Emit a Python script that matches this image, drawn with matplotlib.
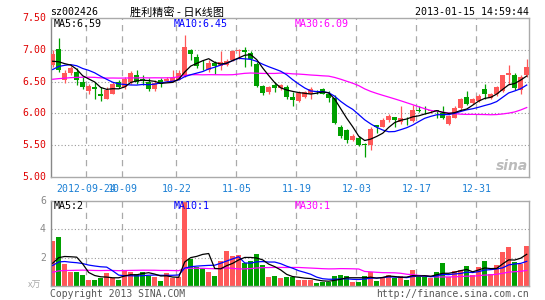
import matplotlib.pyplot as plt
import numpy as np

# daily candles 2012-09-14 .. 2013-01-15 (80 trading days)
opens = [6.76, 7.02, 6.53, 6.64, 6.65, 6.50, 6.35, 6.42, 6.31, 6.23,
         6.31, 6.50, 6.42, 6.50, 6.60, 6.54, 6.50, 6.38, 6.52, 6.51,
         6.51, 6.53, 6.60, 7.00, 6.89, 6.78, 6.69, 6.79, 6.75, 6.76,
         6.84, 6.98, 7.00, 6.95, 6.78, 6.43, 6.33, 6.45, 6.40, 6.41,
         6.26, 6.19, 6.26, 6.31, 6.35, 6.39, 6.31, 6.24, 5.78, 5.74,
         5.58, 5.62, 5.52, 5.50, 5.81, 5.79, 5.89, 5.94, 5.87, 5.90,
         5.88, 6.05, 6.04, 6.03, 6.05, 6.01, 5.83, 5.93, 6.08, 6.25,
         6.16, 6.19, 6.39, 6.25, 6.30, 6.36, 6.60, 6.60, 6.37, 6.60]
highs = [7.00, 7.18, 6.69, 6.74, 6.72, 6.57, 6.47, 6.49, 6.42, 6.42,
         6.50, 6.53, 6.57, 6.66, 6.68, 6.60, 6.55, 6.52, 6.55, 6.57,
         6.69, 6.68, 7.24, 7.02, 6.94, 6.84, 6.84, 6.83, 6.98, 6.86,
         7.00, 7.01, 7.04, 6.98, 6.81, 6.44, 6.43, 6.49, 6.47, 6.44,
         6.34, 6.35, 6.36, 6.41, 6.37, 6.40, 6.36, 6.29, 5.82, 5.76,
         5.67, 5.64, 5.54, 5.79, 5.82, 5.92, 5.99, 5.95, 6.11, 5.94,
         6.13, 6.11, 6.11, 6.06, 6.06, 6.11, 5.97, 6.11, 6.24, 6.36,
         6.24, 6.31, 6.46, 6.32, 6.43, 6.61, 6.76, 6.63, 6.60, 6.86]
lows = [6.73, 6.65, 6.48, 6.60, 6.44, 6.39, 6.31, 6.23, 6.19, 6.22,
        6.30, 6.40, 6.39, 6.47, 6.47, 6.44, 6.36, 6.36, 6.42, 6.50,
        6.50, 6.52, 6.57, 6.84, 6.72, 6.68, 6.65, 6.62, 6.68, 6.74,
        6.83, 6.86, 6.73, 6.75, 6.42, 6.29, 6.31, 6.34, 6.37, 6.23,
        6.12, 6.18, 6.24, 6.23, 6.31, 6.30, 6.18, 5.84, 5.62, 5.53,
        5.56, 5.48, 5.31, 5.42, 5.69, 5.78, 5.87, 5.79, 5.84, 5.82,
        5.87, 6.02, 5.99, 6.01, 5.92, 5.91, 5.82, 5.92, 6.06, 6.13,
        6.14, 6.18, 6.23, 6.23, 6.28, 6.34, 6.47, 6.37, 6.31, 6.57]
closes = [6.93, 6.68, 6.63, 6.71, 6.52, 6.42, 6.43, 6.39, 6.28, 6.37,
          6.47, 6.42, 6.54, 6.63, 6.50, 6.52, 6.39, 6.48, 6.47, 6.54,
          6.56, 6.64, 7.04, 6.94, 6.75, 6.77, 6.80, 6.75, 6.81, 6.82,
          6.98, 7.00, 6.96, 6.86, 6.43, 6.32, 6.41, 6.40, 6.45, 6.26,
          6.21, 6.32, 6.34, 6.39, 6.33, 6.31, 6.24, 5.85, 5.64, 5.58,
          5.64, 5.50, 5.51, 5.75, 5.79, 5.89, 5.96, 5.89, 5.93, 5.89,
          6.06, 6.04, 6.03, 6.05, 6.04, 5.92, 5.96, 6.09, 6.22, 6.15,
          6.23, 6.28, 6.30, 6.30, 6.41, 6.60, 6.64, 6.40, 6.57, 6.73]
# volume, 万手
volumes = [3.19, 3.47, 1.52, 1.00, 1.00, 0.80, 0.45, 0.45, 0.55, 0.90,
           0.55, 0.45, 1.10, 1.00, 0.85, 1.00, 0.74, 0.62, 0.33, 0.90,
           0.57, 0.67, 6.00, 1.88, 1.33, 1.28, 0.97, 0.74, 1.74, 2.45,
           2.10, 2.17, 1.62, 1.74, 2.24, 1.45, 0.67, 0.74, 0.57, 0.67,
           0.67, 0.43, 0.43, 0.43, 0.21, 0.31, 0.31, 0.74, 0.81, 0.74,
           0.31, 0.31, 0.74, 1.02, 0.38, 0.57, 0.81, 0.57, 0.74, 0.45,
           1.10, 0.67, 0.67, 0.55, 0.98, 1.62, 0.67, 1.05, 1.10, 1.38,
           0.81, 1.33, 1.76, 0.86, 1.45, 2.40, 2.76, 1.69, 1.52, 2.81]

# the 29 sessions before the window, only used for the moving averages
prev_closes = [6.38, 6.42, 6.45, 6.40, 6.36, 6.41, 6.47, 6.50, 6.48, 6.44,
               6.46, 6.52, 6.55, 6.50, 6.47, 6.43, 6.45, 6.49, 6.53, 6.49,
               6.20, 6.45, 6.60, 6.70, 6.85, 6.72, 6.78, 6.82, 6.85]
prev_volumes = [0.60, 0.70, 0.80, 0.65, 0.55, 0.70, 0.90, 0.75, 0.60, 0.70,
                0.80, 0.85, 0.70, 0.65, 0.75, 0.80, 0.70, 0.75, 0.85, 0.80,
                1.00, 1.20, 1.50, 1.35, 1.40, 1.52, 1.10, 1.10, 1.14]

date_idx = [6, 12, 21, 31, 41, 51, 61, 71]
date_labels = ["2012-09-24", "10-09", "10-22", "11-05", "11-19", "12-03", "12-17", "12-31"]
price_ticks = [7.50, 7.00, 6.50, 6.00, 5.50, 5.00]
vol_ticks = [6, 4, 2]

RED = "#ff5858"
GREEN = "#00a000"
MONO = "DejaVu Sans Mono"
W, H = 545, 300

o = np.array(opens); c = np.array(closes)
hi = np.array(highs); lo = np.array(lows)
v = np.array(volumes)
n = len(c)
x = np.arange(n)
up = c >= o
cols = [RED if u else GREEN for u in up]


def ma(prev, arr, k):
    full = np.concatenate([prev, arr])
    return np.convolve(full, np.ones(k) / k, "valid")[-len(arr):]


def box(x0, y0, x1, y1):
    return [x0 / W, 1 - y1 / H, (x1 - x0) / W, (y1 - y0) / H]


fig = plt.figure(figsize=(5.45, 3.0), dpi=100)
ax = fig.add_axes(box(50.7, 18, 529, 177))
axv = fig.add_axes(box(50.7, 201, 529, 286))

xlim = (-0.333, n - 1 + 0.383)
for a in (ax, axv):
    a.set_xlim(*xlim)
    a.set_xticks([]); a.set_yticks([])
    for s in a.spines.values():
        s.set_color("#aaaaaa"); s.set_linewidth(1)
    a.spines["left"].set_color("#888888")
    for d in date_idx:
        a.axvline(d - 0.4, color="#aaaaaa", lw=0.9, ls=(0, (5, 4)), zorder=0)

# price panel
ax.set_ylim(5.0, 7.5)
for p in [7.0, 6.5, 6.0, 5.5]:
    ax.axhline(p, color="#999999", lw=0.8, ls=(0, (1, 2)), zorder=0)
ax.vlines(x, lo, hi, colors=cols, lw=0.9, zorder=2)
body = np.maximum(np.abs(c - o), 0.012)
ax.bar(x, body, bottom=np.minimum(o, c), width=0.8, color=cols, lw=0, zorder=3)
m5, m10, m30 = ma(prev_closes, c, 5), ma(prev_closes, c, 10), ma(prev_closes, c, 30)
ax.plot(x, m30, color="#ff00ff", lw=0.9, zorder=4)
ax.plot(x, m10, color="#0000ff", lw=0.9, zorder=4)
ax.plot(x, m5, color="black", lw=0.9, zorder=4)

# volume panel
axv.set_ylim(0, 6)
for t in [4, 2]:
    axv.axhline(t, color="#999999", lw=0.8, ls=(0, (1, 2)), zorder=0)
axv.bar(x, v, width=0.8, color=cols, lw=0, zorder=2)
vm5, vm10, vm30 = ma(prev_volumes, v, 5), ma(prev_volumes, v, 10), ma(prev_volumes, v, 30)
axv.plot(x, vm30, color="#ff00ff", lw=0.9, zorder=4)
axv.plot(x, vm10, color="#0000ff", lw=0.9, zorder=4)
axv.plot(x, vm5, color="black", lw=0.9, zorder=4)


def ftext(px_x, px_y, s, **kw):
    fig.text(px_x / W, 1 - px_y / H, s, va="center", **kw)


# header
ftext(50, 12, "sz002426", family=MONO, fontsize=7.2, color="black")
ftext(177, 12, "胜利精密 - 日K线图", family=["Noto Sans CJK SC", "DejaVu Sans"],
      fontsize=8, color="black", ha="center")
ftext(529, 12, "2013-01-15 14:59:44", family=MONO, fontsize=7.2, color="black", ha="right")

# moving average readouts
ftext(54, 24, "MA5:%.2f" % m5[-1], family=MONO, fontsize=7.2, color="black")
ftext(174, 24, "MA10:%.2f" % m10[-1], family=MONO, fontsize=7.2, color="#0000ff")
ftext(295, 24, "MA30:%.2f" % m30[-1], family=MONO, fontsize=7.2, color="#ff00ff")
ftext(54, 206, "MA5:%d" % int(vm5[-1]), family=MONO, fontsize=7.2, color="black")
ftext(174, 206, "MA10:%d" % int(vm10[-1]), family=MONO, fontsize=7.2, color="#0000ff")
ftext(295, 206, "MA30:%d" % int(vm30[-1]), family=MONO, fontsize=7.2, color="#ff00ff")

# axis labels
for p in price_ticks:
    y_px = 18 + (7.5 - p) / 2.5 * 159
    ftext(46, y_px, "%.2f" % p, family=MONO, fontsize=7.1, color="#e00000", ha="right")
for t in vol_ticks:
    y_px = 286 - t / 6 * 85
    ftext(46, y_px, str(t), family=MONO, fontsize=7.1, color="#888888", ha="right")
for d, lab in zip(date_idx, date_labels):
    x_px = 50.7 + (d - 0.4 - xlim[0]) / (xlim[1] - xlim[0]) * (529 - 50.7)
    ftext(x_px, 189, lab, family=MONO, fontsize=7.1, color="#1a7fd4", ha="center")

# footer
ftext(35, 285, "x万", family=["Noto Sans CJK SC", "DejaVu Sans"], fontsize=6.5, color="#aaaaaa", ha="center")
ftext(50, 294, "Copyright 2013 SINA.COM", family=MONO, fontsize=7, color="#555555")
ftext(529, 294, "http://finance.sina.com.cn", family=MONO, fontsize=7, color="#555555", ha="right")
ftext(512, 166, "sina", family="DejaVu Sans", fontsize=10, color="#bbbbbb",
      ha="center", style="italic", weight="bold")

fig.savefig("out.png", dpi=100)
